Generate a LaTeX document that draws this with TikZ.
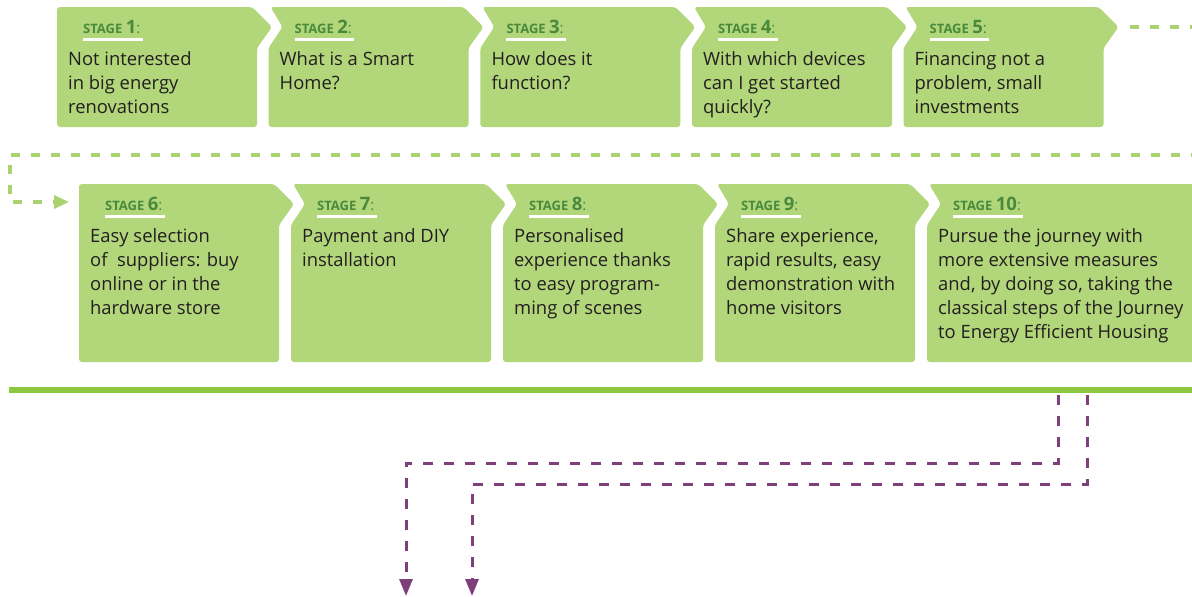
\documentclass[tikz,border=0pt]{standalone}
\usepackage{fontspec}
\setmainfont{Open Sans}
\usetikzlibrary{arrows.meta,calc}
\definecolor{boxfill}{RGB}{178,214,122}
\definecolor{barcol}{RGB}{141,198,63}
\definecolor{dashgreen}{RGB}{170,211,112}
\definecolor{labgreen}{RGB}{74,138,60}
\definecolor{purp}{RGB}{125,64,122}
\definecolor{txtcol}{RGB}{35,31,32}
\newcommand\hasnotch{0}
\newcommand\hasarrow{1}
\newcommand\bw{200}
\newcommand\stagebox[6]{%
  \def\sL{#2}\def\sT{#3}\def\sB{#4}%
  \pgfmathsetmacro\sR{#2+\bw}%
  \ifnum\hasnotch=1
    \ifnum\hasarrow=1
      \fill[boxfill,rounded corners=3pt] (\sL,\sT+41) -- (\sL+14,\sT+20) -- (\sL+2,\sT) -- (\sR-5,\sT) -- (\sR+15,\sT+20) -- (\sR,\sT+41) -- (\sR,\sB) -- (\sL,\sB) -- cycle;
    \else
      \fill[boxfill,rounded corners=3pt] (\sL,\sT+41) -- (\sL+14,\sT+20) -- (\sL+2,\sT) -- (\sR,\sT) -- (\sR,\sB) -- (\sL,\sB) -- cycle;
    \fi
  \else
    \fill[boxfill,rounded corners=3pt] (\sL,\sT+41) -- (\sL,\sT) -- (\sR-5,\sT) -- (\sR+15,\sT+20) -- (\sR,\sT+41) -- (\sR,\sB) -- (\sL,\sB) -- cycle;
  \fi
  \coordinate (tip#1) at (\sR+15,\sT+20);
  \node[lab] (l#1) at (\sL+26,\sT+26) {{\fontsize{13}{13}\selectfont\bfseries STAGE}\hspace{3.5pt}{\fontsize{18.5}{18}\selectfont\bfseries #5}{\fontsize{15}{15}\selectfont:}};
  \draw[uline] ($(l#1.south west)+(0,6)$) -- ($(l#1.south east)+(2,6)$);
  \node[txt] (t#1) at (\sL+11,\sT+58) {\parbox[t]{300pt}{\raggedright #6}};
}
\begin{document}
\begin{tikzpicture}[x=1pt,y=-1pt,
  lab/.style={anchor=base west,inner sep=0pt,text=labgreen},
  uline/.style={white,line width=2.5pt},
  txt/.style={anchor=base west,inner sep=0pt,text=txtcol,font=\fontsize{18.4}{24}\selectfont},
  gdash/.style={dashgreen,line width=3.2pt,dash pattern=on 9pt off 11pt},
  pdash/.style={purp,line width=3pt,dash pattern=on 10pt off 11pt}]
\clip (0,0) rectangle (1192,597);
\fill[white] (0,0) rectangle (1192,597);
% row 1
\renewcommand\hasnotch{0}\renewcommand\hasarrow{1}
\stagebox{1}{57}{7}{127}{1}{Not interested\\in big energy\\renovations}
\renewcommand\hasnotch{1}
\stagebox{2}{268.5}{7}{127}{2}{What is a Smart\\Home?}
\stagebox{3}{480.3}{7}{127}{3}{How does it\\function?}
\stagebox{4}{692}{7}{127}{4}{With which devices\\can I get started\\quickly?}
\stagebox{5}{903.5}{7}{127}{5}{Financing not a\\problem, small\\investments}
% row 2
\renewcommand\hasnotch{0}
\stagebox{6}{79}{184}{362}{6}{Easy selection\\of~ suppliers: buy\\online or in the\\hardware store}
\renewcommand\hasnotch{1}
\stagebox{7}{291}{184}{362}{7}{Payment and DIY\\installation}
\stagebox{8}{503}{184}{362}{8}{Personalised\\experience thanks\\to easy program-\\ming of scenes}
\stagebox{9}{715}{184}{362}{9}{Share experience,\\rapid results, easy\\demonstration with\\home visitors}
\renewcommand\hasarrow{0}\renewcommand\bw{300}
\stagebox{10}{927}{184}{362}{10}{Pursue the journey with\\more extensive measures\\and, by doing so, taking the\\classical steps of the Journey\\to Energy Efficient Housing}
% green connectors
\coordinate (gR1) at (1200,27);
\coordinate (gR2) at (1200,155);
\coordinate (gL1) at (10,155);
\coordinate (gL2) at (10,202);
\coordinate (in6) at (69,202);
\draw[gdash,shorten <=11pt] (tip5) -- (gR1);
\draw[gdash,-{Triangle[length=15pt,width=13pt]}] (gR2) -- (gL1) -- (gL2) -- (in6);
% bar
\fill[barcol] (9,387) rectangle (1200,393);
% purple connectors
\coordinate (pa0) at (1058,395);
\coordinate (pa1) at (1058,463);
\coordinate (pa2) at (406,463);
\coordinate (pa3) at (406,596);
\coordinate (pb0) at (1087,395);
\coordinate (pb1) at (1087,484);
\coordinate (pb2) at (472,484);
\coordinate (pb3) at (472,596);
\draw[pdash,-{Triangle[length=17pt,width=13pt]}] (pa0) -- (pa1) -- (pa2) -- (pa3);
\draw[pdash,-{Triangle[length=17pt,width=13pt]}] (pb0) -- (pb1) -- (pb2) -- (pb3);
\end{tikzpicture}
\end{document}
